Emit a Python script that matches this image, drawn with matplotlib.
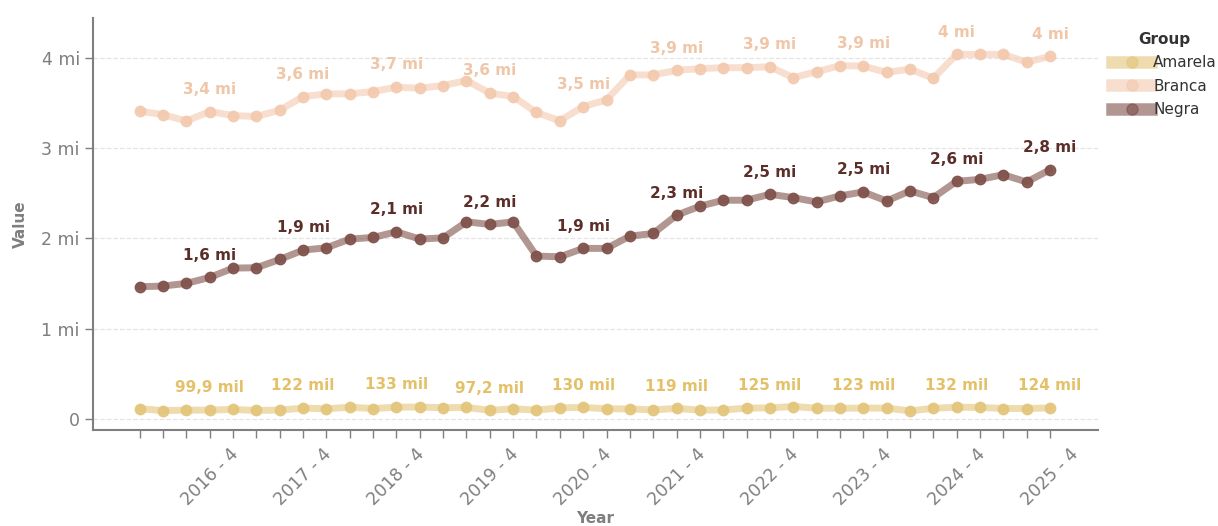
import matplotlib
matplotlib.use("Agg")
import matplotlib.pyplot as plt
import numpy as np
from matplotlib.lines import Line2D

plt.rcParams['font.family'] = ['DejaVu Sans']

years = list(range(2016, 2026))
quarters = [f"{y} - {q}" for y in years for q in range(1, 5)]

amarela = [115e3, 95e3, 100e3, 99.9e3, 108e3, 96e3, 101e3, 122e3, 115e3, 132e3,
           117e3, 133e3, 134e3, 126e3, 130e3, 97.2e3, 115e3, 100e3, 125e3, 130e3,
           115e3, 113e3, 102e3, 119e3, 100e3, 102e3, 122e3, 125e3, 140e3, 122e3,
           120e3, 123e3, 122e3, 92e3, 120e3, 132e3, 130e3, 118e3, 118e3, 124e3]
branca = [3.41e6, 3.37e6, 3.30e6, 3.405e6, 3.36e6, 3.35e6, 3.42e6, 3.57e6, 3.60e6, 3.60e6,
          3.626e6, 3.674e6, 3.663e6, 3.692e6, 3.748e6, 3.608e6, 3.571e6, 3.394e6, 3.302e6, 3.46e6,
          3.533e6, 3.81e6, 3.81e6, 3.86e6, 3.88e6, 3.89e6, 3.89e6, 3.90e6, 3.78e6, 3.846e6,
          3.912e6, 3.908e6, 3.838e6, 3.875e6, 3.772e6, 4.037e6, 4.037e6, 4.037e6, 3.952e6, 4.015e6]
negra = [1.466e6, 1.473e6, 1.503e6, 1.569e6, 1.672e6, 1.676e6, 1.768e6, 1.871e6, 1.897e6, 1.993e6,
         2.011e6, 2.074e6, 1.993e6, 2.007e6, 2.184e6, 2.155e6, 2.184e6, 1.805e6, 1.797e6, 1.89e6,
         1.89e6, 2.026e6, 2.055e6, 2.257e6, 2.357e6, 2.423e6, 2.423e6, 2.489e6, 2.452e6, 2.404e6,
         2.471e6, 2.515e6, 2.415e6, 2.526e6, 2.452e6, 2.632e6, 2.654e6, 2.706e6, 2.625e6, 2.76e6]

groups = ["Amarela", "Branca", "Negra"]
series = {"Amarela": amarela, "Branca": branca, "Negra": negra}
colors = {"Amarela": "#E3C57A", "Branca": "#F3C9AE", "Negra": "#7E5049"}
label_colors = {"Amarela": "#E4C169", "Branca": "#F0C6A8", "Negra": "#5B2E29"}


def fmt_label(v):
    if v >= 1e6:
        s = f"{v/1e6:.1f}"
        if s.endswith(".0"):
            s = s[:-2]
        return s.replace(".", ",") + " mi"
    else:
        k = v / 1e3
        s = f"{k:.1f}" if k < 100 else f"{k:.0f}"
        return s.replace(".", ",") + " mil"


def fmt_tick(v, pos):
    if v == 0:
        return "0"
    return f"{v/1e6:g}".replace(".", ",") + " mi"


fig = plt.figure(figsize=(12.18, 5.26), dpi=100)
ax = fig.add_axes([0.0764, 0.1825, 0.8251, 0.7833])

x = np.arange(len(quarters))
for g in groups:
    vals = series[g]
    ax.plot(x, vals, color=colors[g], lw=5, alpha=0.6, solid_capstyle='round', zorder=2)
    ax.plot(x, vals, color=colors[g], lw=0, marker='o', markersize=7.5, alpha=0.9, zorder=3)
    for i in range(3, len(vals), 4):
        ax.annotate(fmt_label(vals[i]), (x[i], vals[i]), xytext=(0, 16),
                    textcoords='offset points', ha='center', va='center',
                    fontsize=11, fontweight='bold', color=label_colors[g], zorder=4)

handles = [Line2D([0], [0], color=colors[g], lw=9, alpha=0.6, marker='o', markersize=8,
                  markerfacecolor=colors[g], markeredgecolor=colors[g]) for g in groups]
leg = ax.legend(handles, groups, title="Group", loc='upper left', bbox_to_anchor=(1.0, 1.0),
                frameon=False, fontsize=11, title_fontproperties={'weight': 'bold', 'size': 11},
                handlelength=2.6, handletextpad=0.1, labelspacing=0.55)
for t in leg.get_texts():
    t.set_color("#333333")
leg.get_title().set_color("#333333")

ax.set_xlim(-2.0, 41.06)
ax.set_ylim(-0.12e6, 4.44e6)
ax.set_yticks([0, 1e6, 2e6, 3e6, 4e6])
ax.yaxis.set_major_formatter(matplotlib.ticker.FuncFormatter(fmt_tick))
ax.set_xticks(x)
ax.set_xticklabels([q if q.endswith("4") else "" for q in quarters], rotation=45, ha='center')

ax.grid(axis='y', linestyle='--', color='#E4E4E4', lw=0.9, zorder=0)
ax.set_axisbelow(True)
for s in ['top', 'right']:
    ax.spines[s].set_visible(False)
for s in ['left', 'bottom']:
    ax.spines[s].set_color('#7F7F7F')
    ax.spines[s].set_linewidth(1.5)
ax.tick_params(axis='both', colors='#7F7F7F', labelcolor='#7F7F7F', labelsize=12.5, length=6, width=1)
ax.tick_params(axis='x', labelsize=12.5, pad=5)

ax.set_ylabel("Value", fontsize=11, fontweight='bold', color='#7F7F7F', labelpad=10)
ax.set_xlabel("Year", fontsize=11, fontweight='bold', color='#7F7F7F', labelpad=1)

fig.savefig("out.png", dpi=100)
